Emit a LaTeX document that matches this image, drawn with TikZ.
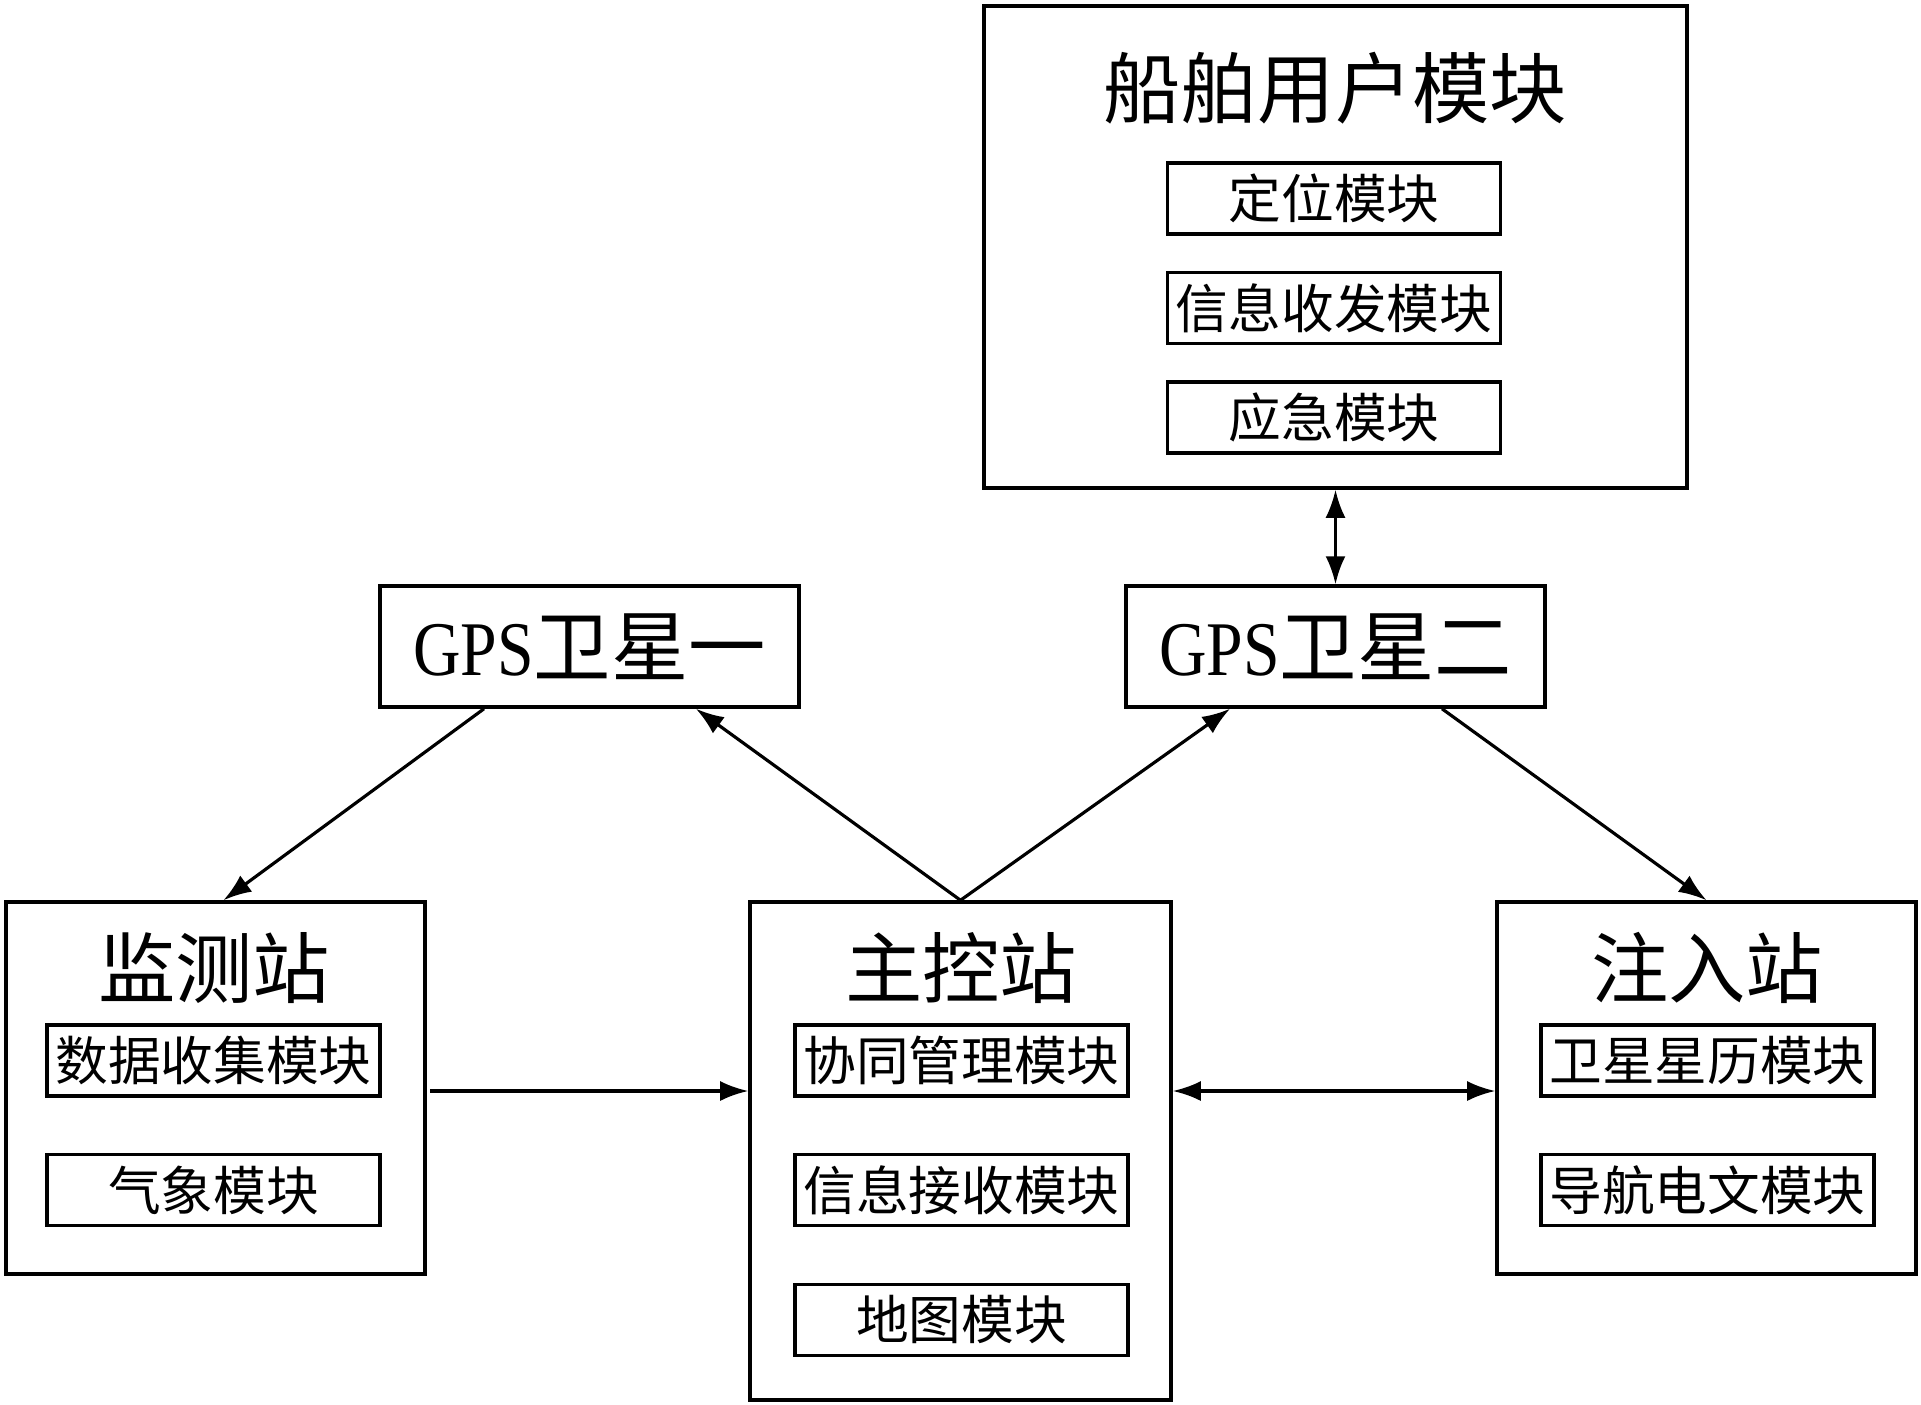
\documentclass[tikz,border=0pt]{standalone}
\usepackage{fontspec}
\newfontfamily\cjk{Noto Sans CJK SC}
\newfontfamily\gpsfont[FakeStretch=0.85]{Liberation Serif}
\usetikzlibrary{positioning,
        arrows.meta,
        calc}

\begin{document}
\begin{tikzpicture}[
        station/.style={draw,line width=1pt,minimum width=4.19cm,minimum height=3.72cm},
        module/.style={draw,line width=1pt,minimum width=3.33cm,minimum height=0.71cm,inner sep=0pt,font=\cjk\fontsize{15}{15}\selectfont},
        title/.style={font=\cjk\fontsize{22}{22}\selectfont},
        link/.style={line width=0.9pt,-{Latex[length=2.8mm,width=2mm]}},
        duplex/.style={line width=0.9pt,{Latex[length=2.8mm,width=2mm]}-{Latex[length=2.8mm,width=2mm]}}]
            \useasboundingbox (0,0) rectangle (19.21,-14.05);

            % ship user module
            \node [draw,line width=1pt,minimum width=7.03cm,minimum height=4.82cm] (ship) at (13.355,-2.47) {};
            \node [title] (shiptitle) at (13.35,-0.88) {船舶用户模块};
            \node [module] (locate) at (13.34,-1.985) {定位模块};
            \node [module] (transceive) at (13.34,-3.08) {信息收发模块};
            \node [module] (emergency) at (13.34,-4.175) {应急模块};

            % satellites
            \node [draw,line width=1pt,minimum width=4.19cm,minimum height=1.21cm,title] (gps1) at (5.895,-6.465) {{\gpsfont GPS}卫星一};
            \node [draw,line width=1pt,minimum width=4.19cm,minimum height=1.21cm,title] (gps2) at (13.355,-6.465) {{\gpsfont GPS}卫星二};

            % monitor station
            \node [station] (monitor) at (2.155,-10.88) {};
            \node [title] (monitortitle) at (2.14,-9.68) {监测站};
            \node [module] (collect) at (2.135,-10.605) {数据收集模块};
            \node [module] (weather) at (2.135,-11.90) {气象模块};

            % master control station
            \node [station,minimum width=4.21cm,minimum height=4.98cm] (master) at (9.605,-11.51) {};
            \node [title] (mastertitle) at (9.61,-9.68) {主控站};
            \node [module] (cooperate) at (9.615,-10.605) {协同管理模块};
            \node [module] (receive) at (9.615,-11.90) {信息接收模块};
            \node [module] (map) at (9.615,-13.20) {地图模块};

            % injection station
            \node [station] (inject) at (17.065,-10.88) {};
            \node [title] (injecttitle) at (17.07,-9.68) {注入站};
            \node [module] (ephemeris) at (17.075,-10.605) {卫星星历模块};
            \node [module] (navmsg) at (17.075,-11.90) {导航电文模块};

            \draw [duplex] (ship) -- (gps2);
            \draw [link] ([xshift=-1.055cm]gps1.south) -- ([xshift=0.08cm]monitor.north);
            \draw [link] (master.north) -- ([xshift=1.065cm]gps1.south);
            \draw [link] (master.north) -- ([xshift=-1.055cm]gps2.south);
            \draw [link] ([xshift=1.065cm]gps2.south) -- (inject.north);
            \draw [link] ([xshift=0.03cm,yshift=-0.03cm]monitor.east) -- ([yshift=-0.03cm]monitor.east -| master.west);
            \draw [duplex] ([yshift=-0.03cm]monitor.east -| master.east) -- ([yshift=-0.03cm]inject.west);
        \end{tikzpicture}
\end{document}
